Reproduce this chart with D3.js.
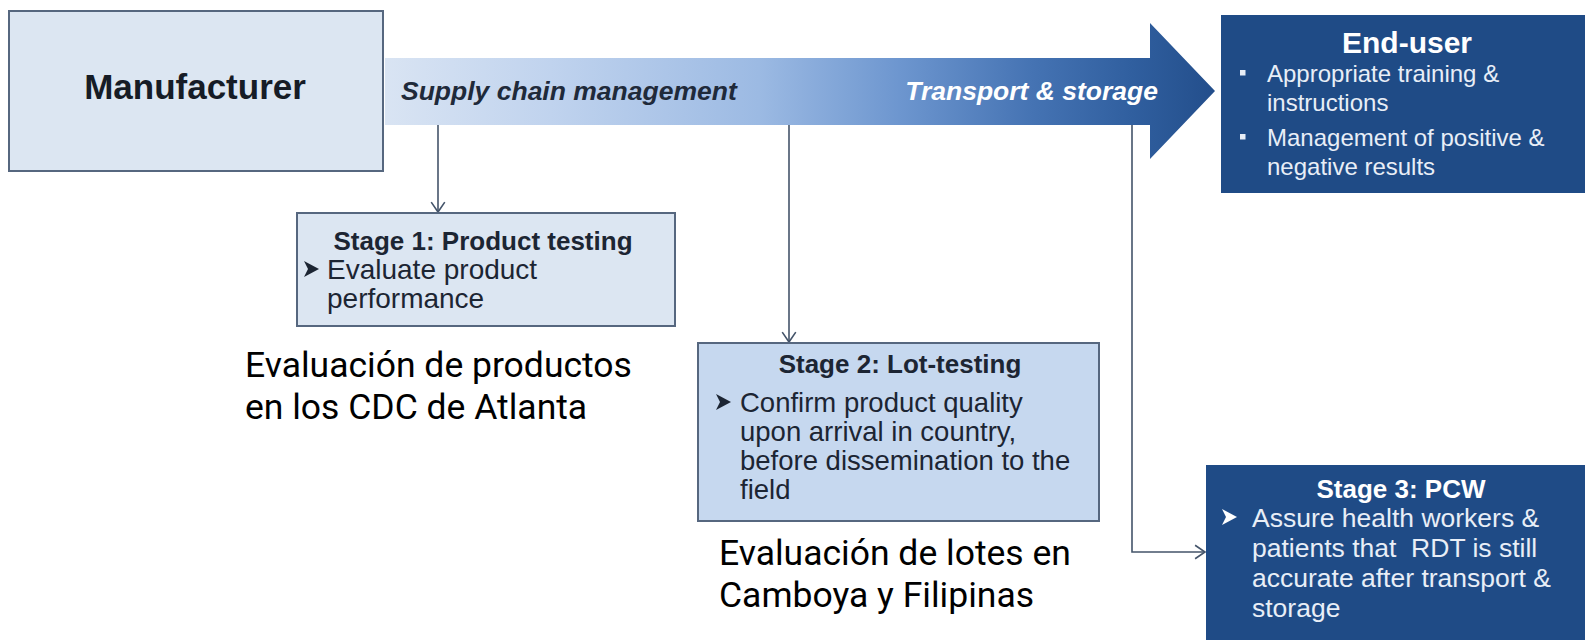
<!DOCTYPE html>
<html>
<head>
<meta charset="utf-8">
<script src="https://cdnjs.cloudflare.com/ajax/libs/d3/7.8.5/d3.min.js"></script>
<style>
  body { margin: 0; background: #fff; overflow: hidden; }
  text { font-family: "Liberation Sans", Arial, sans-serif; }
  .note { font-family: Roboto, "Noto Sans", sans-serif; }
</style>
</head>
<body>
<svg id="chart"></svg>
<script>
var width = 1585, height = 640;

// diagram text
var manufacturerLabel = "Manufacturer";
var flowLabels = ["Supply chain management", "Transport & storage"];
var endUserTitle = "End-user";
var endUserBullets = [
  ["Appropriate training &", "instructions"],
  ["Management of positive &", "negative results"]
];
var stageTitles = ["Stage 1: Product testing", "Stage 2: Lot-testing", "Stage 3: PCW"];
var stageBullets = [
  ["Evaluate product", "performance"],
  ["Confirm product quality", "upon arrival in country,", "before dissemination to the", "field"],
  ["Assure health workers &", "patients that  RDT is still", "accurate after transport &", "storage"]
];
var siteNotes = [
  ["Evaluación de productos", "en los CDC de Atlanta"],
  ["Evaluación de lotes en", "Camboya y Filipinas"]
];

// layout
var stageLayout = [
  {x: 297, y: 213, w: 378, h: 113, fill: "#dce6f2", stroke: "#56677f", ink: "#1c2533", head: "#1c2533",
   titleX: 483, titleY: 250, bulletX: 305, textX: 327, lineY: 279, lh: 28.5, size: 28},
  {x: 698, y: 343, w: 401, h: 178, fill: "#c6d8ef", stroke: "#56677f", ink: "#1c2533", head: "#1c2533",
   titleX: 900, titleY: 373, bulletX: 717, textX: 740, lineY: 412, lh: 29, size: 27.5},
  {x: 1206, y: 465, w: 379, h: 175, fill: "#1f4b86", stroke: "none", ink: "#e8eef7", head: "#ffffff",
   titleX: 1401, titleY: 498, bulletX: 1223, textX: 1252, lineY: 527, lh: 30, size: 26.5}
];
var noteLayout = [{x: 245, y: 377}, {x: 719, y: 565}];

var svg = d3.select("#chart").attr("width", width).attr("height", height);

var defs = svg.append("defs");
var grad = defs.append("linearGradient")
  .attr("id", "flowGrad")
  .attr("gradientUnits", "userSpaceOnUse")
  .attr("x1", 385).attr("x2", 1215).attr("y1", 0).attr("y2", 0);
grad.selectAll("stop")
  .data([[0, "#d9e4f3"], [0.2, "#c0d3ee"], [0.45, "#9cbae3"], [0.62, "#6d96cf"], [0.78, "#4573b3"], [0.9, "#305f9f"], [1, "#234e8b"]])
  .enter().append("stop")
  .attr("offset", function(d) { return d[0]; })
  .attr("stop-color", function(d) { return d[1]; });

// big flow arrow
svg.append("path")
  .attr("d", "M385,58 L1150,58 L1150,23 L1215,91 L1150,159 L1150,125 L385,125 Z")
  .attr("fill", "url(#flowGrad)");

svg.append("text")
  .attr("x", 401).attr("y", 100)
  .style("font-size", "26.5px").style("font-weight", "bold").style("font-style", "italic")
  .attr("fill", "#1f2a3a")
  .text(flowLabels[0]);
svg.append("text")
  .attr("x", 1158).attr("y", 100)
  .attr("text-anchor", "end")
  .style("font-size", "26.5px").style("font-weight", "bold").style("font-style", "italic")
  .attr("fill", "#ffffff")
  .text(flowLabels[1]);

// manufacturer box
svg.append("rect")
  .attr("x", 9).attr("y", 11).attr("width", 374).attr("height", 160)
  .attr("fill", "#dce6f2").attr("stroke", "#56677f").attr("stroke-width", 2);
svg.append("text")
  .attr("x", 195).attr("y", 99)
  .attr("text-anchor", "middle")
  .style("font-size", "35px").style("font-weight", "bold")
  .attr("fill", "#161c26")
  .text(manufacturerLabel);

// end-user box
svg.append("rect")
  .attr("x", 1221).attr("y", 15).attr("width", width - 1221).attr("height", 178)
  .attr("fill", "#1f4b86");
svg.append("text")
  .attr("x", 1407).attr("y", 53)
  .attr("text-anchor", "middle")
  .style("font-size", "30px").style("font-weight", "bold")
  .attr("fill", "#ffffff")
  .text(endUserTitle);

var euY = [[82, 111], [146, 175]];
var eu = svg.selectAll(".eu").data(endUserBullets).enter().append("g").attr("class", "eu");
eu.append("rect")
  .attr("x", 1240).attr("y", function(d, i) { return euY[i][0] - 12; })
  .attr("width", 5.5).attr("height", 5.5)
  .attr("fill", "#e8eef7");
eu.selectAll("text")
  .data(function(d, i) { return d.map(function(t, j) { return {t: t, y: euY[i][j]}; }); })
  .enter().append("text")
  .attr("x", 1267).attr("y", function(d) { return d.y; })
  .style("font-size", "24px")
  .attr("fill", "#e8eef7")
  .text(function(d) { return d.t; });

// connectors
var line = d3.line();
var connectors = [
  [[438, 125], [438, 212]],
  [[789, 125], [789, 342]],
  [[1132, 125], [1132, 552], [1205, 552]]
];
svg.selectAll(".conn").data(connectors).enter().append("path")
  .attr("class", "conn")
  .attr("d", line)
  .attr("fill", "none").attr("stroke", "#44546a").attr("stroke-width", 1.6);

// open arrowheads at connector ends
svg.selectAll(".head").data(connectors).enter().append("path")
  .attr("class", "head")
  .attr("d", function(d) {
    var p = d[d.length - 1], q = d[d.length - 2];
    var ang = Math.atan2(p[1] - q[1], p[0] - q[0]);
    var len = 12, spread = 0.6;
    var a1 = [p[0] - len * Math.cos(ang - spread), p[1] - len * Math.sin(ang - spread)];
    var a2 = [p[0] - len * Math.cos(ang + spread), p[1] - len * Math.sin(ang + spread)];
    return line([a1, p, a2]);
  })
  .attr("fill", "none").attr("stroke", "#44546a").attr("stroke-width", 1.6);

// stage boxes
var stages = svg.selectAll(".stage")
  .data(stageTitles.map(function(t, i) { return {title: t, lines: stageBullets[i], L: stageLayout[i]}; }))
  .enter().append("g").attr("class", "stage");

stages.append("rect")
  .attr("x", function(d) { return d.L.x; })
  .attr("y", function(d) { return d.L.y; })
  .attr("width", function(d) { return d.L.w; })
  .attr("height", function(d) { return d.L.h; })
  .attr("fill", function(d) { return d.L.fill; })
  .attr("stroke", function(d) { return d.L.stroke; })
  .attr("stroke-width", 2);

stages.append("text")
  .attr("x", function(d) { return d.L.titleX; })
  .attr("y", function(d) { return d.L.titleY; })
  .attr("text-anchor", "middle")
  .style("font-size", "26px").style("font-weight", "bold")
  .attr("fill", function(d) { return d.L.head; })
  .text(function(d) { return d.title; });

// arrow bullet
stages.append("path")
  .attr("transform", function(d) { return "translate(" + (d.L.bulletX - 1) + "," + (d.L.lineY - 10) + ")"; })
  .attr("d", "M0,-8 L15,0 L0,8 L4,0 Z")
  .attr("fill", function(d) { return d.L.head; });

stages.selectAll(".body")
  .data(function(d) { return d.lines.map(function(t, j) { return {t: t, j: j, L: d.L}; }); })
  .enter().append("text")
  .attr("class", "body")
  .attr("x", function(d) { return d.L.textX; })
  .attr("y", function(d) { return d.L.lineY + d.j * d.L.lh; })
  .style("font-size", function(d) { return d.L.size + "px"; })
  .style("white-space", "pre")
  .attr("fill", function(d) { return d.L.ink; })
  .text(function(d) { return d.t; });

// notes under the stages
var notes = svg.selectAll(".noteg").data(siteNotes).enter().append("g").attr("class", "noteg");
notes.selectAll("text")
  .data(function(d, i) { return d.map(function(t, j) { return {t: t, x: noteLayout[i].x, y: noteLayout[i].y + j * 42}; }); })
  .enter().append("text")
  .attr("class", "note")
  .attr("x", function(d) { return d.x; })
  .attr("y", function(d) { return d.y; })
  .style("font-size", "35.5px")
  .attr("fill", "#000")
  .text(function(d) { return d.t; });
</script>
</body>
</html>
